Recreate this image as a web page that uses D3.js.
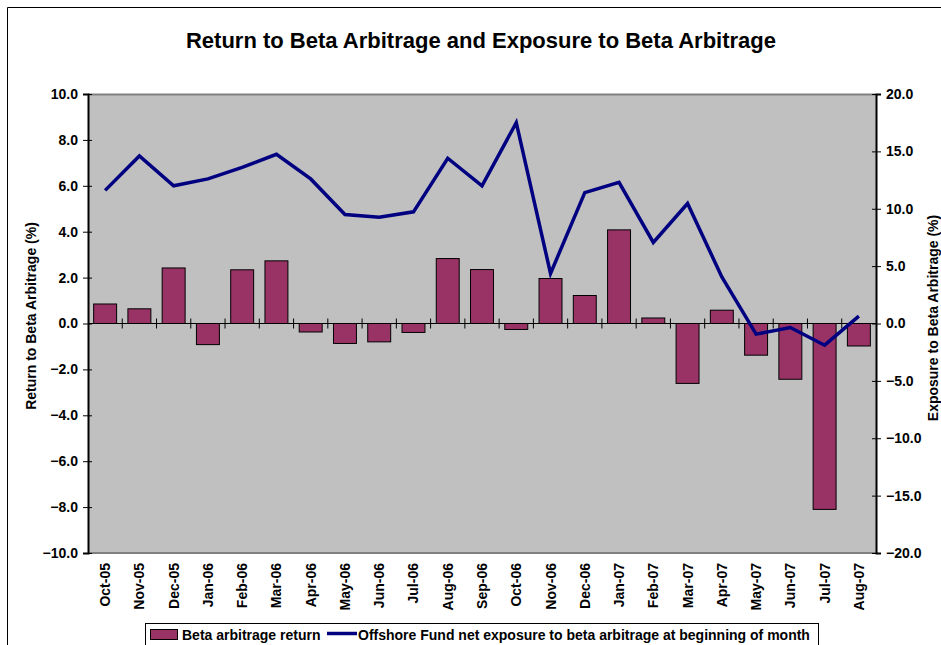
<!DOCTYPE html>
<html>
<head>
<meta charset="utf-8">
<script src="https://cdn.jsdelivr.net/npm/d3@7"></script>
<style>
  body { margin: 0; background: #fff; }
  text { font-family: "Liberation Sans", Arial, sans-serif; font-weight: bold; fill: #000; }
</style>
</head>
<body>
<div id="chart"></div>
<script>
// months on the x axis
let months = ["Oct-05", "Nov-05", "Dec-05", "Jan-06", "Feb-06", "Mar-06", "Apr-06", "May-06",
  "Jun-06", "Jul-06", "Aug-06", "Sep-06", "Oct-06", "Nov-06", "Dec-06", "Jan-07", "Feb-07",
  "Mar-07", "Apr-07", "May-07", "Jun-07", "Jul-07", "Aug-07"];

// bars, left axis (%)
let beta_return = [0.85, 0.64, 2.42, -0.92, 2.34, 2.73, -0.37, -0.87, -0.80, -0.39, 2.83, 2.35,
  -0.26, 1.96, 1.22, 4.08, 0.24, -2.61, 0.58, -1.38, -2.43, -8.10, -0.98];

// line, right axis (%)
let net_exposure = [11.6, 14.6, 12.0, 12.6, 13.6, 14.75, 12.6, 9.5, 9.26, 9.73, 14.4, 12.0,
  17.5, 4.36, 11.4, 12.3, 7.06, 10.46, 4.06, -0.93, -0.35, -1.89, 0.64];

let left_ticks = [-10, -8, -6, -4, -2, 0, 2, 4, 6, 8, 10];
let right_ticks = [-20, -15, -10, -5, 0, 5, 10, 15, 20];

let width = 941, height = 645;
let plot = { left: 88, right: 876, top: 94, bottom: 553 };
let font = "'Liberation Sans', Arial, sans-serif";

let svg = d3.select("#chart").append("svg")
  .attr("width", width)
  .attr("height", height);

// outer chart border (only top and left show in the frame)
svg.append("path")
  .attr("d", "M7.5," + height + "V7.5H" + width)
  .attr("fill", "none")
  .attr("stroke", "#000")
  .attr("stroke-width", 1);

let x = d3.scaleBand().domain(months).range([plot.left, plot.right]).paddingInner(0.33).paddingOuter(0.165);
let xb = d3.scaleBand().domain(months).range([plot.left, plot.right]);
let yl = d3.scaleLinear().domain([-10, 10]).range([plot.bottom, plot.top]);
let yr = d3.scaleLinear().domain([-20, 20]).range([plot.bottom, plot.top]);

// plot background
svg.append("rect")
  .attr("x", plot.left).attr("y", plot.top)
  .attr("width", plot.right - plot.left).attr("height", plot.bottom - plot.top)
  .attr("fill", "#c0c0c0");
svg.append("line")
  .attr("x1", plot.left).attr("x2", plot.right)
  .attr("y1", plot.top + 0.5).attr("y2", plot.top + 0.5)
  .attr("stroke", "#808080").attr("stroke-width", 2);
svg.append("line")
  .attr("x1", plot.left).attr("x2", plot.right)
  .attr("y1", plot.bottom).attr("y2", plot.bottom)
  .attr("stroke", "#808080").attr("stroke-width", 2);

// bars
svg.append("g").selectAll("rect")
  .data(beta_return)
  .join("rect")
  .attr("x", (d, i) => x(months[i]))
  .attr("width", x.bandwidth())
  .attr("y", d => yl(Math.max(0, d)))
  .attr("height", d => Math.abs(yl(d) - yl(0)))
  .attr("fill", "#993366")
  .attr("stroke", "#000")
  .attr("stroke-width", 1);

// zero line with category ticks
let zero = yl(0);
svg.append("line")
  .attr("x1", plot.left).attr("x2", plot.right)
  .attr("y1", zero).attr("y2", zero)
  .attr("stroke", "#000").attr("stroke-width", 1);
svg.append("g").selectAll("line")
  .data(months.slice(1))
  .join("line")
  .attr("x1", d => xb(d)).attr("x2", d => xb(d))
  .attr("y1", zero - 5).attr("y2", zero + 5)
  .attr("stroke", "#000");

// exposure line
let line = d3.line()
  .x((d, i) => xb(months[i]) + xb.bandwidth() / 2)
  .y(d => yr(d));
svg.append("path")
  .datum(net_exposure)
  .attr("d", line)
  .attr("fill", "none")
  .attr("stroke", "#000080")
  .attr("stroke-width", 3.5)
  .attr("stroke-linejoin", "miter");

// left axis
let gl = svg.append("g")
  .attr("transform", "translate(" + plot.left + ",0)")
  .call(d3.axisLeft(yl).tickValues(left_ticks).tickFormat(d3.format(".1f")).tickSize(5).tickPadding(5));
gl.select(".domain").attr("stroke", "#000").attr("stroke-width", 2);
gl.selectAll(".tick line").clone().attr("x2", 4);
gl.selectAll("text").style("font-size", "14px").style("font-family", font).style("font-weight", "bold");

// right axis
let gr = svg.append("g")
  .attr("transform", "translate(" + plot.right + ",0)")
  .call(d3.axisRight(yr).tickValues(right_ticks).tickFormat(d3.format(".1f")).tickSize(5).tickPadding(5));
gr.select(".domain").attr("stroke", "#000").attr("stroke-width", 2);
gr.selectAll(".tick line").clone().attr("x2", -4);
gr.selectAll("text").style("font-size", "14px").style("font-family", font).style("font-weight", "bold");

// month labels
svg.append("g").selectAll("text")
  .data(months)
  .join("text")
  .attr("transform", d => "translate(" + (xb(d) + xb.bandwidth() / 2 + 5) + "," + (plot.bottom + 10) + ") rotate(-90)")
  .attr("text-anchor", "end")
  .style("font-size", "14px")
  .text(d => d);

// title
svg.append("text")
  .attr("x", 481).attr("y", 48)
  .attr("text-anchor", "middle")
  .style("font-size", "22px")
  .text("Return to Beta Arbitrage and Exposure to Beta Arbitrage");

// axis titles
svg.append("text")
  .attr("transform", "translate(36,316) rotate(-90)")
  .attr("text-anchor", "middle")
  .style("font-size", "14px")
  .text("Return to Beta Arbitrage (%)");
svg.append("text")
  .attr("transform", "translate(938,318) rotate(-90)")
  .attr("text-anchor", "middle")
  .style("font-size", "14px")
  .text("Exposure to Beta Arbitrage (%)");

// legend
let lg = svg.append("g");
lg.append("rect")
  .attr("x", 145.5).attr("y", 623.5)
  .attr("width", 673).attr("height", 30)
  .attr("fill", "#fff").attr("stroke", "#000");
lg.append("rect")
  .attr("x", 150.5).attr("y", 629.5)
  .attr("width", 27).attr("height", 10)
  .attr("fill", "#993366").attr("stroke", "#000");
lg.append("text")
  .attr("x", 182).attr("y", 640)
  .style("font-size", "14px")
  .text("Beta arbitrage return");
lg.append("line")
  .attr("x1", 327).attr("x2", 357)
  .attr("y1", 633.5).attr("y2", 633.5)
  .attr("stroke", "#000080").attr("stroke-width", 3.5);
lg.append("text")
  .attr("x", 358).attr("y", 640)
  .style("font-size", "14px")
  .text("Offshore Fund net exposure to beta arbitrage at beginning of month");
</script>
</body>
</html>
